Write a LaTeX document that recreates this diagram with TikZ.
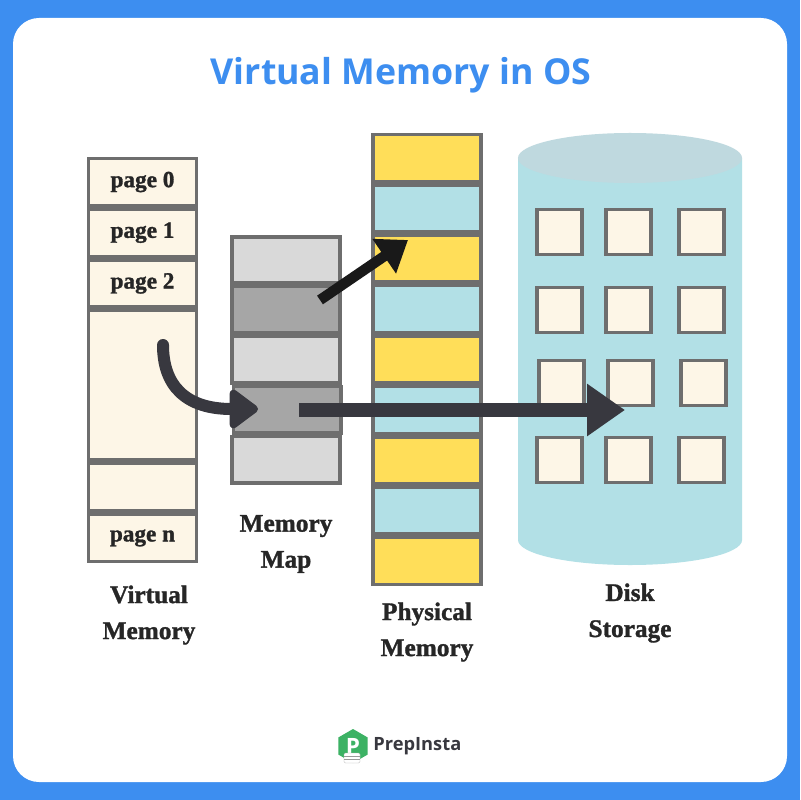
\documentclass[tikz,border=0pt]{standalone}
\usepackage{fontspec}
\setmainfont{Liberation Serif}
\newfontfamily\capfont[UprightFont={* Bold},FakeBold=1.3]{Liberation Serif}
\newfontfamily\titlefont{Open Sans}
\usepackage{xcolor}
\usetikzlibrary{arrows.meta,positioning,shapes.geometric}

\definecolor{framegrey}{HTML}{6E6E6E}
\definecolor{creamfill}{HTML}{FDF6E7}
\definecolor{lightgrey}{HTML}{D9D9D9}
\definecolor{midgrey}{HTML}{A6A6A6}
\definecolor{paleblue}{HTML}{B2E0E6}
\definecolor{capblue}{HTML}{BFD9DF}
\definecolor{sunyellow}{HTML}{FFDE59}
\definecolor{inkdark}{HTML}{38383F}
\definecolor{bandblue}{HTML}{3D8EF0}
\definecolor{logogreen}{HTML}{3CB264}

\begin{document}
\begin{tikzpicture}[
  x=0.025cm, y=-0.025cm,
  node distance=0cm,
  cell/.style={rectangle, draw=framegrey, line width=0.0875cm, outer sep=0.04375cm, minimum width=2.69cm, inner sep=0pt, font=\capfont\fontsize{16.5}{18}\selectfont, text=black!85},
  vcell/.style={cell, fill=creamfill, minimum height=1.18cm},
  mcell/.style={cell, fill=lightgrey, minimum height=1.16cm},
  mdark/.style={cell, fill=midgrey, minimum height=1.16cm},
  pyellow/.style={cell, fill=sunyellow, minimum height=1.172cm},
  pblue/.style={cell, fill=paleblue, minimum height=1.172cm},
  diskcell/.style={rectangle, draw=framegrey, line width=0.0875cm, fill=creamfill, minimum size=1.13cm, inner sep=0pt},
  caption/.style={align=center, text=black!85, font=\capfont\fontsize{18}{25.6}\selectfont},
  bigarrow/.style={line width=0.35cm, color=inkdark, -{Triangle[length=0.95cm, width=1.25cm]}},
  curvearrow/.style={line width=0.3cm, color=inkdark, line cap=round, -{Triangle[length=0.78cm, width=1.1cm, round]}},
  blackarrow/.style={line width=0.26cm, color=black!90, -{Triangle[length=0.72cm, width=1.0cm]}}
]

\fill[bandblue] (0,0) rectangle (800,800);
\fill[white, rounded corners=0.65cm] (13,18) rectangle (787,782);

\node[text=bandblue, font=\titlefont\fontsize{25.4}{30}\selectfont\bfseries] (title) at (401,75) {Virtual Memory in OS};

\node[vcell] (page0) at (142.5,182) {page 0};
\node[vcell, below=of page0] (page1) {page 1};
\node[vcell, below=of page1] (page2) {page 2};
\node[vcell, below=of page2, minimum height=3.74cm] (vfree) {};
\node[vcell, below=of vfree] (vblank) {};
\node[vcell, below=of vblank] (pagen) {page n};

\node[mcell] (map0) at (286,260) {};
\node[mdark, below=of map0] (map1) {};
\node[mcell, below=of map1] (map2) {};
\node[mdark, below=of map2, xshift=0.03cm] (map3) {};
\node[mcell, below=of map3, xshift=-0.03cm] (map4) {};

\node[pyellow] (phys0) at (427,158) {};
\node[pblue, below=of phys0] (phys1) {};
\node[pyellow, below=of phys1] (phys2) {};
\node[pblue, below=of phys2] (phys3) {};
\node[pyellow, below=of phys3] (phys4) {};
\node[pblue, below=of phys4] (phys5) {};
\node[pyellow, below=of phys5] (phys6) {};
\node[pblue, below=of phys6] (phys7) {};
\node[pyellow, below=of phys7] (phys8) {};

\fill[paleblue] (518,158) -- (518,540) arc[start angle=180, end angle=360, x radius=2.8cm, y radius=0.625cm] -- (742,158) -- cycle;
\fill[capblue] (630,158) ellipse[x radius=2.8cm, y radius=0.625cm];

\foreach \row/\ypos/\xoff in {0/232/0, 1/310/0, 2/383/2, 3/460/0} {
  \node[diskcell] (disk\row a) at (559.5+\xoff,\ypos) {};
  \node[diskcell] (disk\row b) at (628.5+\xoff,\ypos) {};
  \node[diskcell] (disk\row c) at (701.5+\xoff,\ypos) {};
}

\node[caption] (vlabel) at (149,615) {Virtual\\Memory};
\node[caption] (mlabel) at (286,544) {Memory\\Map};
\node[caption] (plabel) at (427,632) {Physical\\Memory};
\node[caption] (dlabel) at (630,613) {Disk\\Storage};

\coordinate (curvestart) at (163,345);
\coordinate (curveend) at (258,409);
\coordinate (longstart) at (299,410);
\coordinate (longend) at (625,410);
\coordinate (upstart) at (320,300);
\coordinate (upend) at (408,240);

\draw[curvearrow] (curvestart) .. controls (163,385) and (185,409) .. (curveend);
\draw[bigarrow] (longstart) -- (longend);
\draw[blackarrow] (upstart) -- (upend);

\node[regular polygon, regular polygon sides=6, regular polygon rotate=30, fill=logogreen, minimum size=0.85cm, inner sep=0pt, text=white, font=\titlefont\fontsize{16}{16}\selectfont\bfseries] (logomark) at (353,746) {P};
\node[rectangle, rounded corners=1pt, draw=framegrey!50, fill=white, line width=0.2pt, minimum width=0.4cm, minimum height=0.25cm, inner sep=0pt] (logomask) at (352,758) {};
\draw[framegrey!70, line width=0.3pt] ([yshift=0.04cm]logomask.west) -- ([yshift=0.04cm]logomask.east);
\draw[framegrey!70, line width=0.3pt] ([yshift=-0.04cm]logomask.west) -- ([yshift=-0.04cm]logomask.east);
\node[right=0.01cm of logomark, text=inkdark, font=\titlefont\fontsize{13}{15}\selectfont\bfseries] (logotext) {PrepInsta};

\end{tikzpicture}
\end{document}
